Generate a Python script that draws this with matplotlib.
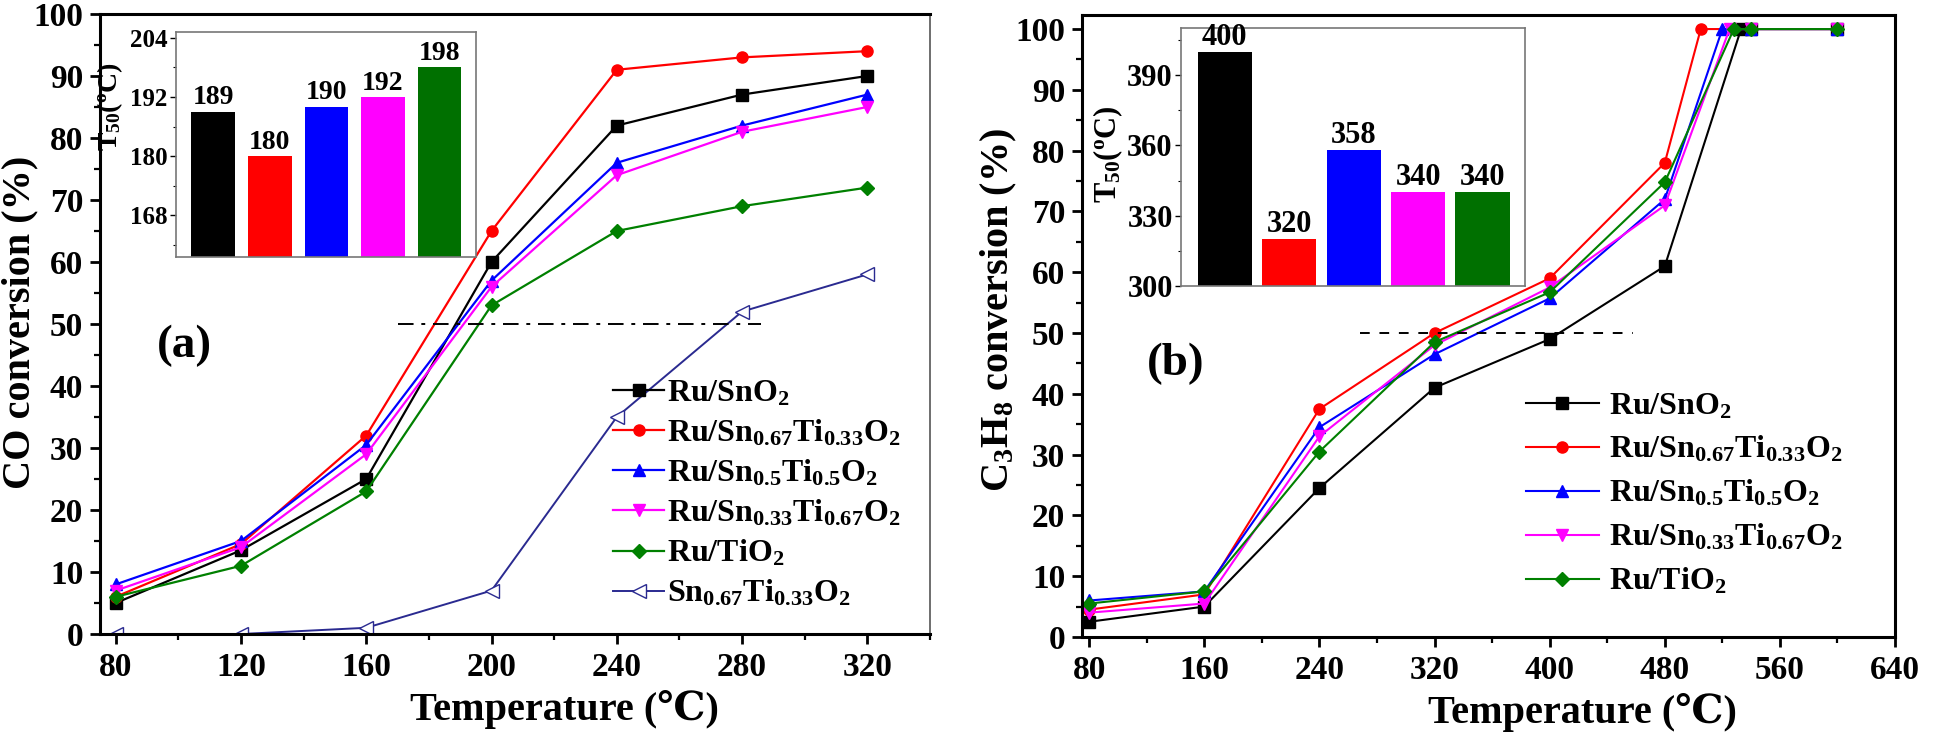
import matplotlib
matplotlib.use("Agg")
import matplotlib.pyplot as plt
from matplotlib.ticker import MultipleLocator

plt.rcParams['font.family'] = ['Liberation Serif', 'DejaVu Serif']
plt.rcParams['font.weight'] = 'bold'
plt.rcParams['mathtext.fontset'] = 'custom'
plt.rcParams['mathtext.rm'] = 'Liberation Serif'
plt.rcParams['mathtext.it'] = 'Liberation Serif:italic'
plt.rcParams['mathtext.bf'] = 'Liberation Serif:bold'
plt.rcParams['mathtext.default'] = 'regular'

# ---- data (a): CO conversion ----
temp_a = [80, 120, 160, 200, 240, 280, 320]
co_snO2 = [5, 13.5, 25, 60, 82, 87, 90]
co_sn67 = [6, 14.5, 32, 65, 91, 93, 94]
co_sn50 = [8, 15, 30.5, 57, 76, 82, 87]
co_sn33 = [7, 14, 29, 56, 74, 81, 85]
co_tio2 = [6, 11, 23, 53, 65, 69, 72]
co_support = [0, 0, 1, 7, 35, 52, 58]

# ---- data (b): C3H8 conversion ----
t_snO2 = [80, 160, 240, 320, 400, 480, 533, 540, 600]
c3_snO2 = [2.5, 5, 24.5, 41, 49, 61, 100, 100, 100]
t_sn67 = [80, 160, 240, 320, 400, 480, 505, 540, 600]
c3_sn67 = [4.5, 7, 37.5, 50, 59, 78, 100, 100, 100]
t_sn50 = [80, 160, 240, 320, 400, 480, 520, 540, 600]
c3_sn50 = [6, 7.5, 34.5, 46.5, 55.7, 72, 100, 100, 100]
t_sn33 = [80, 160, 240, 320, 400, 480, 525, 540, 600]
c3_sn33 = [4, 5.5, 33, 48, 57.5, 71, 100, 100, 100]
t_tio2 = [80, 160, 240, 320, 400, 480, 528, 540, 600]
c3_tio2 = [5.5, 7.5, 30.5, 48.5, 56.7, 74.8, 100, 100, 100]

# ---- inset data: T50 ----
t50_co = [189, 180, 190, 192, 198]
t50_c3 = [400, 320, 358, 340, 340]

names = ['Ru/SnO$_2$', 'Ru/Sn$_{0.67}$Ti$_{0.33}$O$_2$', 'Ru/Sn$_{0.5}$Ti$_{0.5}$O$_2$',
         'Ru/Sn$_{0.33}$Ti$_{0.67}$O$_2$', 'Ru/TiO$_2$', 'Sn$_{0.67}$Ti$_{0.33}$O$_2$']
colors = ['black', '#ff0000', '#0000ff', '#ff00ff', '#008000']
bar_colors = ['black', '#ff0000', '#0000ff', '#ff00ff', '#007000']
markers = ['s', 'o', '^', 'v', 'D']
navy = '#2a2a90'

fig = plt.figure(figsize=(19.46, 7.43), dpi=100)
ax1 = fig.add_axes([0.0514, 0.1467, 0.4265, 0.8345])
ax2 = fig.add_axes([0.556, 0.1427, 0.4178, 0.837])


def style_main(ax):
    for s in ax.spines.values():
        s.set_linewidth(2.2)
    ax.tick_params(which='major', direction='out', length=7, width=2, labelsize=24)
    ax.tick_params(which='minor', direction='out', length=4, width=1.6)
    ax.tick_params(axis='x', pad=6)
    ax.tick_params(axis='y', pad=5)
    ax.yaxis.set_major_locator(MultipleLocator(10))
    ax.yaxis.set_minor_locator(MultipleLocator(5))


# panel (a)
co_series = [co_snO2, co_sn67, co_sn50, co_sn33, co_tio2]
for ys, c, m, lab in zip(co_series, colors, markers, names):
    ax1.plot(temp_a, ys, color=c, marker=m, markersize=8 if m != 'D' else 7,
             lw=1.6, label=lab)
ax1.plot(temp_a, co_support, color=navy, marker='<', markersize=10, mfc='white',
         mec=navy, lw=1.4, label=names[5])
ax1.plot([170, 286], [50, 50], color='black', lw=1.4, ls=(0, (8, 4, 2, 4)))
ax1.set_xlim(75, 340)
ax1.set_ylim(0, 100)
ax1.xaxis.set_major_locator(MultipleLocator(40))
ax1.xaxis.set_minor_locator(MultipleLocator(20))
style_main(ax1)
ax1.spines['right'].set_linewidth(1.2)
ax1.spines['right'].set_color('#555555')
ax1.set_ylabel('CO conversion (%)', fontsize=29, fontweight='bold')
ax1.yaxis.set_label_coords(-0.074, 0.503)
ax1.set_xlabel('Temperature (℃)', fontsize=29, fontweight='bold')
ax1.xaxis.set_label_coords(0.56, -0.09)
ax1.text(102, 46.5, '(a)', fontsize=34, fontweight='bold', ha='center', va='center')
fig.legend(*ax1.get_legend_handles_labels(), loc='upper left',
           bbox_to_anchor=(0.315, 0.49), frameon=False, fontsize=23,
           handlelength=1.6, handletextpad=0.1, labelspacing=0.3,
           borderpad=0, borderaxespad=0)

# panel (b)
c3_x = [t_snO2, t_sn67, t_sn50, t_sn33, t_tio2]
c3_y = [c3_snO2, c3_sn67, c3_sn50, c3_sn33, c3_tio2]
for xs, ys, c, m, lab in zip(c3_x, c3_y, colors, markers, names):
    ax2.plot(xs, ys, color=c, marker=m, markersize=8 if m != 'D' else 7,
             lw=1.5, label=lab)
ax2.plot([268, 458], [50, 50], color='black', lw=1.4, ls=(0, (5, 5)))
ax2.set_xlim(75, 640)
ax2.set_ylim(0, 102.3)
ax2.xaxis.set_major_locator(MultipleLocator(80))
ax2.xaxis.set_minor_locator(MultipleLocator(40))
style_main(ax2)
ax2.set_ylabel('C$_3$H$_8$ conversion (%)', fontsize=29, fontweight='bold')
ax2.yaxis.set_label_coords(-0.078, 0.526)
ax2.set_xlabel('Temperature (℃)', fontsize=29, fontweight='bold')
ax2.xaxis.set_label_coords(0.616, -0.09)
ax2.text(140, 45, '(b)', fontsize=34, fontweight='bold', ha='center', va='center')
fig.legend(*ax2.get_legend_handles_labels(), loc='upper left',
           bbox_to_anchor=(0.784, 0.473), frameon=False, fontsize=23,
           handlelength=2.3, handletextpad=0.3, labelspacing=0.42,
           borderpad=0, borderaxespad=0)


def style_inset(ax, ticksize):
    for s in ax.spines.values():
        s.set_linewidth(1.2)
        s.set_color('#777777')
    ax.set_xticks([])
    ax.tick_params(axis='y', which='major', direction='out', length=4, width=1,
                   labelsize=ticksize, pad=2)
    ax.tick_params(axis='y', which='minor', direction='out', length=2, width=0.8)


# inset (a)
ins1 = fig.add_axes([0.0904, 0.654, 0.154, 0.303])
b1 = ins1.bar(range(len(t50_co)), t50_co, width=0.77, color=bar_colors)
ins1.bar_label(b1, fontsize=20, fontweight='bold', padding=1)
ins1.set_ylim(159.5, 205.2)
ins1.set_xlim(-0.66, 4.64)
ins1.set_yticks([168, 180, 192, 204])
ins1.yaxis.set_minor_locator(MultipleLocator(6))
style_inset(ins1, 18)
ins1.set_ylabel('T$_{50}$($^{o}$C)', fontsize=20, fontweight='bold')
ins1.yaxis.set_label_coords(-0.17, 0.67)

# inset (b)
ins2 = fig.add_axes([0.6069, 0.615, 0.1768, 0.347])
b2 = ins2.bar(range(len(t50_c3)), t50_c3, width=0.84, color=bar_colors)
ins2.bar_label(b2, fontsize=22, fontweight='bold', padding=0)
ins2.set_ylim(300, 410)
ins2.set_xlim(-0.68, 4.66)
ins2.set_yticks([300, 330, 360, 390])
ins2.yaxis.set_minor_locator(MultipleLocator(15))
style_inset(ins2, 22)
ins2.set_ylabel('T$_{50}$($^{o}$C)', fontsize=22, fontweight='bold')
ins2.yaxis.set_label_coords(-0.163, 0.51)

fig.savefig('out.png', dpi=100)
